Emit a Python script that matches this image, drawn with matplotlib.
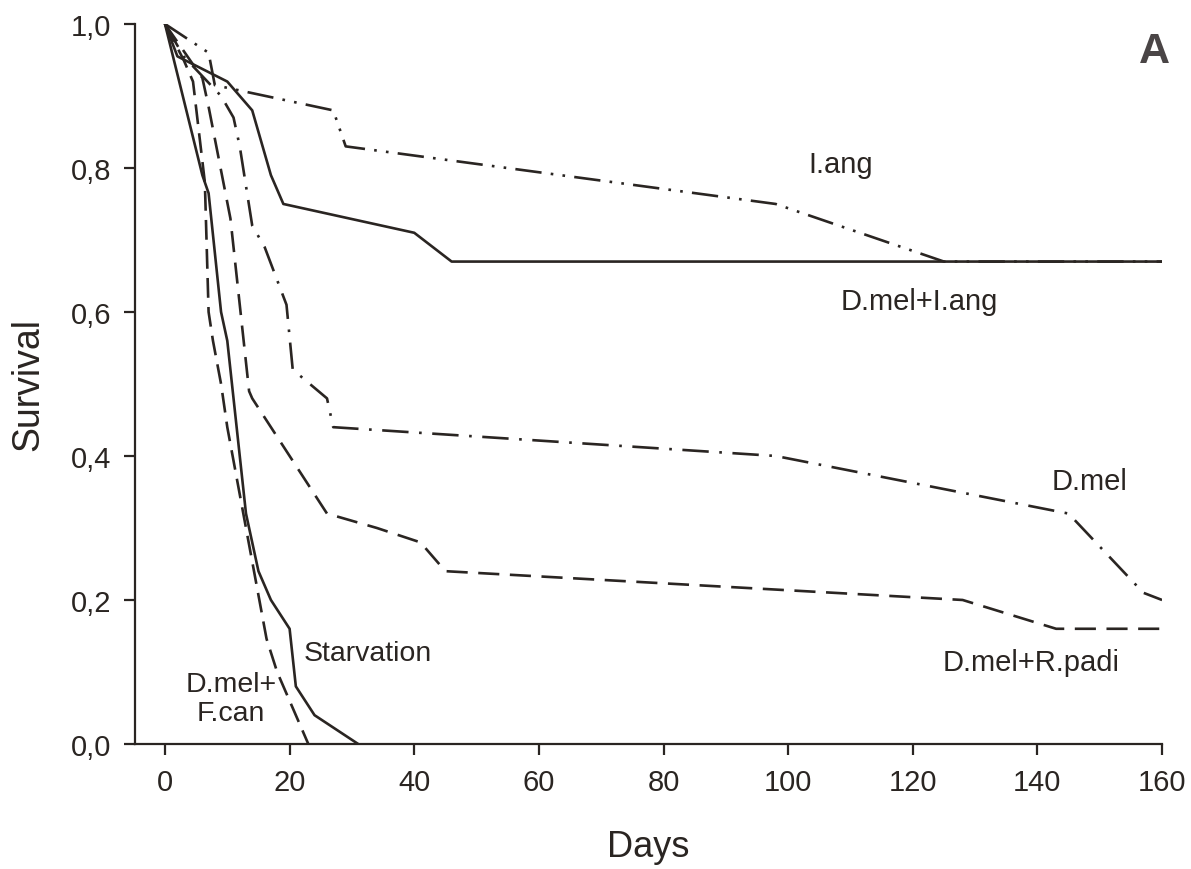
import matplotlib
matplotlib.use("Agg")
import matplotlib.pyplot as plt

plt.rcParams['font.family'] = ['Liberation Sans', 'DejaVu Sans']

# survival curves (days, survival)
iang_days = [0, 7, 8, 27, 29, 98, 125, 160]
iang_surv = [1.0, 0.96, 0.915, 0.88, 0.83, 0.75, 0.67, 0.67]

mel_iang_days = [0, 2, 10, 14, 17, 19, 40, 46, 160]
mel_iang_surv = [1.0, 0.955, 0.92, 0.88, 0.79, 0.75, 0.71, 0.67, 0.67]

mel_days = [0, 3, 9, 11, 12, 14, 16, 19.5, 20.5, 26, 27, 98, 145, 157, 160]
mel_surv = [1.0, 0.955, 0.9, 0.87, 0.83, 0.72, 0.69, 0.61, 0.52, 0.48, 0.44, 0.40, 0.32, 0.21, 0.20]

padi_days = [0, 4, 6, 7, 10.5, 13.5, 14, 26, 34, 41, 45, 128, 143, 160]
padi_surv = [1.0, 0.95, 0.925, 0.885, 0.73, 0.49, 0.48, 0.32, 0.30, 0.28, 0.24, 0.20, 0.16, 0.16]

fcan_days = [0, 3, 4.5, 6.4, 7, 7.7, 9, 10, 16.3, 18, 23]
fcan_surv = [1.0, 0.95, 0.92, 0.78, 0.60, 0.56, 0.50, 0.44, 0.146, 0.10, 0.0]

starv_days = [0, 6, 7, 9, 10, 13, 15, 17, 20, 21, 24, 31]
starv_surv = [1.0, 0.79, 0.765, 0.60, 0.56, 0.32, 0.24, 0.20, 0.16, 0.08, 0.04, 0.0]

col = '#2a2522'
lw = 1.9

fig = plt.figure(figsize=(11.91, 8.70), dpi=100)
ax = fig.add_axes([0.1134, 0.1437, 0.8623, 0.8276])

ax.plot(iang_days, iang_surv, color=col, lw=lw, ls=(0, (10, 3.5, 1, 3.5, 1, 3.5)))
ax.plot(mel_iang_days, mel_iang_surv, color=col, lw=lw, ls='-')
ax.plot(mel_days, mel_surv, color=col, lw=lw, ls=(0, (10, 4, 1, 4)))
ax.plot(padi_days, padi_surv, color=col, lw=lw, ls=(0, (8, 4)))
ax.plot(fcan_days, fcan_surv, color=col, lw=lw, ls=(0, (7.5, 3.5)))
ax.plot(starv_days, starv_surv, color=col, lw=lw, ls='-')

txt = dict(fontsize=21, color=col, ha='center', va='center')
ax.text(108.5, 0.806, 'I.ang', **txt)
ax.text(121, 0.615, 'D.mel+I.ang', **txt)
ax.text(148.3, 0.365, 'D.mel', **txt)
ax.text(139, 0.114, 'D.mel+R.padi', **txt)
txt['fontsize'] = 20.5
ax.text(32.6, 0.126, 'Starvation', **txt)
ax.text(10.6, 0.0625, 'D.mel+\nF.can', linespacing=1.15, **txt)
ax.text(158.7, 0.9625, 'A', fontsize=31, fontweight='bold', color='#4a4546',
        ha='center', va='center')

ax.set_xlim(-4.8, 160)
ax.set_ylim(0, 1.0)
ax.set_xticks(range(0, 161, 20))
ax.set_yticks([0, 0.2, 0.4, 0.6, 0.8, 1.0])
ax.set_yticklabels(['0,0', '0,2', '0,4', '0,6', '0,8', '1,0'])

for s in ['top', 'right']:
    ax.spines[s].set_visible(False)
for s in ['left', 'bottom']:
    ax.spines[s].set_color(col)
    ax.spines[s].set_linewidth(1.6)
ax.tick_params(direction='out', length=8, width=1.6, color=col,
               labelsize=21, labelcolor=col, pad=9)

ax.set_xlabel('Days', fontsize=26, color=col, labelpad=24)
ax.set_ylabel('Survival', fontsize=27, color=col, labelpad=18)

fig.savefig('out.png', dpi=100)
